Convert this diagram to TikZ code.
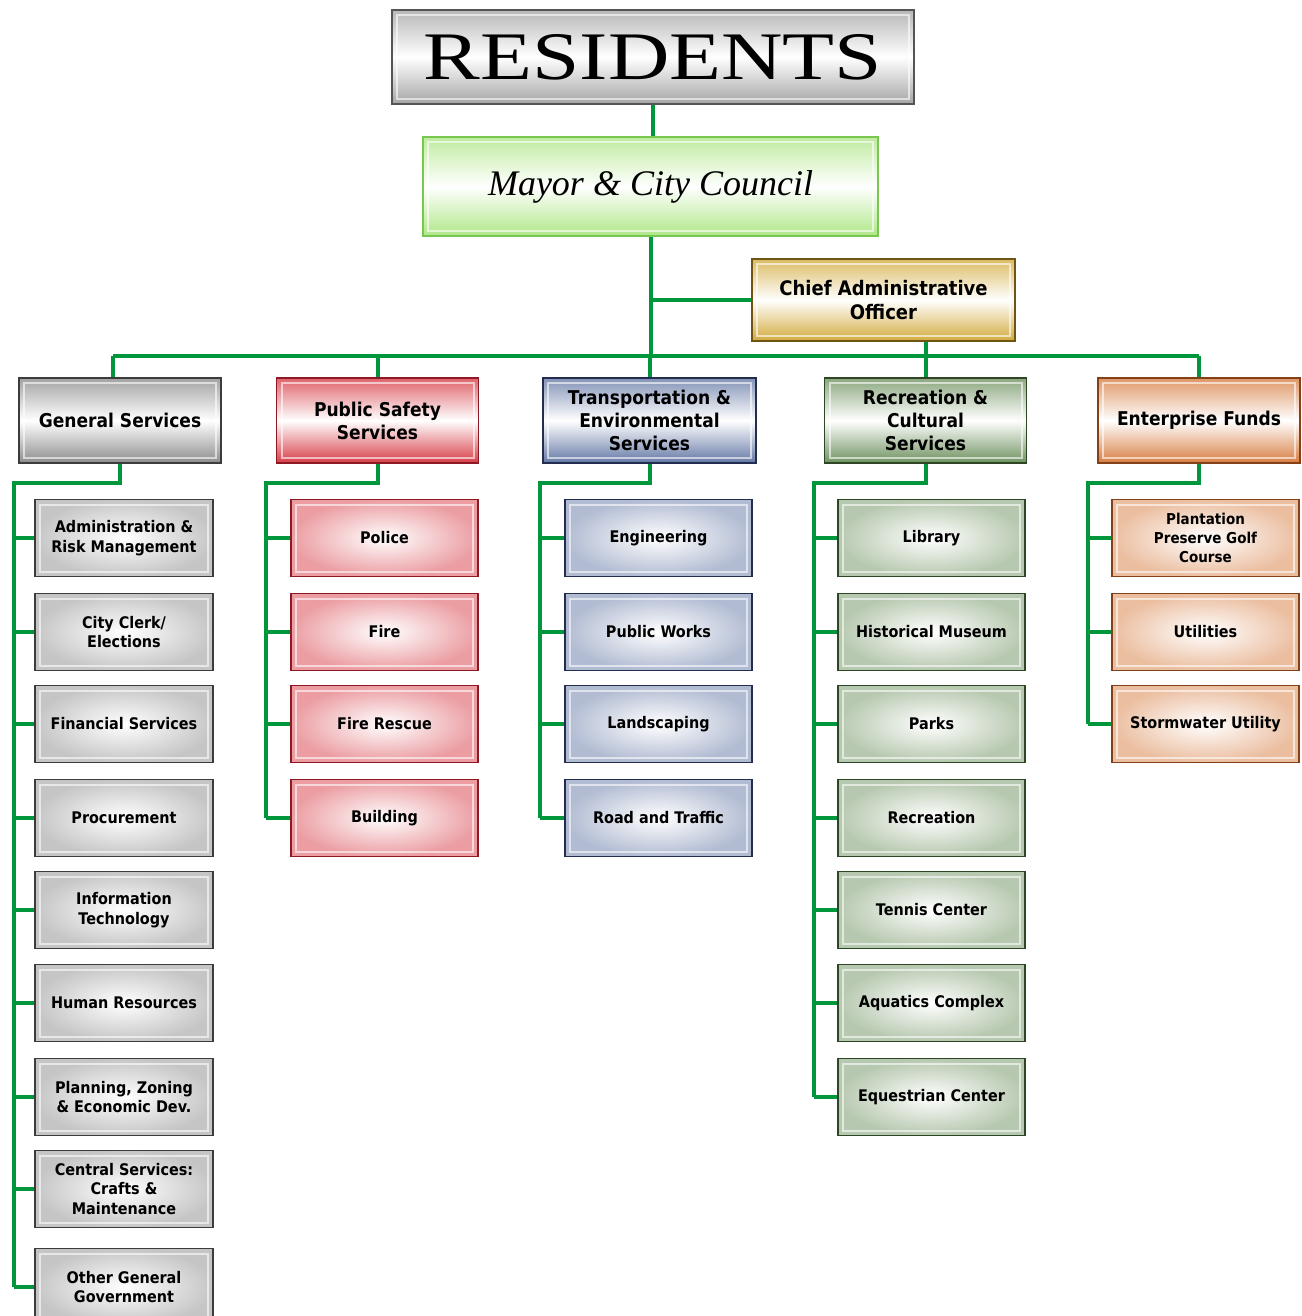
\documentclass[tikz,border=0pt]{standalone}
\usepackage{fontspec}
\newfontfamily\orgfont{DejaVu Sans}[FakeStretch=0.9]
\newfontfamily\resfont{Liberation Serif}[FakeStretch=1.25]
\newfontfamily\mayorfont{Liberation Serif}

\definecolor{linkgreen}{RGB}{0,150,60}
\definecolor{resEdge}{RGB}{85,85,85}
\definecolor{resFill}{RGB}{165,165,165}
\definecolor{mayorEdge}{RGB}{120,200,80}
\definecolor{mayorFill}{RGB}{175,230,135}
\definecolor{caoEdge}{RGB}{110,85,20}
\definecolor{caoFill}{RGB}{210,170,60}
\definecolor{gsEdge}{RGB}{60,60,60}
\definecolor{gsFill}{RGB}{140,140,140}
\definecolor{psEdge}{RGB}{140,25,35}
\definecolor{psFill}{RGB}{215,60,70}
\definecolor{teEdge}{RGB}{35,45,80}
\definecolor{teFill}{RGB}{100,120,165}
\definecolor{rcEdge}{RGB}{45,70,35}
\definecolor{rcFill}{RGB}{110,145,95}
\definecolor{efEdge}{RGB}{130,65,25}
\definecolor{efFill}{RGB}{215,125,65}

\tikzset{
  unit/.style={rectangle, draw=#1Edge, line width=1.5pt, top color=#1Fill!80,
    bottom color=#1Fill, middle color=white, align=center, inner sep=0pt,
    path picture={\draw[white, line width=2pt, opacity=0.6]
      ([shift={(5pt,-5pt)}]path picture bounding box.north west) rectangle
      ([shift={(-5pt,5pt)}]path picture bounding box.south east);}},
  head/.style={unit=#1, minimum width=202pt, minimum height=85pt,
    font=\orgfont\bfseries\fontsize{19}{23}\selectfont},
  kid/.style={unit=#1, inner color=white, outer color=#1Fill!50,
    minimum width=187pt, minimum height=77pt,
    font=\orgfont\bfseries\fontsize{16}{19.5}\selectfont},
  link/.style={draw=linkgreen, line width=4pt}
}

\begin{document}
\begin{tikzpicture}[x=1pt,y=-1pt]
\useasboundingbox (0,0) rectangle (1301,1316);
\clip (0,0) rectangle (1301,1316);

% top of the chart
\node[unit=res, minimum width=522pt, minimum height=94pt,
  font=\resfont\fontsize{68}{68}\selectfont] (res) at (653,57) {RESIDENTS};
\node[unit=mayor, minimum width=455pt, minimum height=99pt,
  font=\mayorfont\itshape\fontsize{36}{40}\selectfont] (mayor) at (650.5,186.5) {Mayor \& City Council};
\node[unit=cao, minimum width=263pt, minimum height=82pt,
  font=\orgfont\bfseries\fontsize{20}{24}\selectfont] (cao) at (883.5,300) {Chief Administrative\\Officer};

% departments
\node[head=gs] (gs) at (120,420.5) {General Services};
\node[head=ps] (ps) at (377.5,420.5) {Public Safety\\Services};
\node[head=te, minimum width=213pt] (te) at (649.5,420.5) {Transportation \&\\Environmental\\Services};
\node[head=rc] (rc) at (925.5,420.5) {Recreation \&\\Cultural\\Services};
\node[head=ef] (ef) at (1199,420.5) {Enterprise Funds};

% general services
\node[kid=gs, minimum width=178pt] (gs1) at (124,538) {Administration \&\\Risk Management};
\node[kid=gs, minimum width=178pt] (gs2) at (124,632) {City Clerk/\\Elections};
\node[kid=gs, minimum width=178pt] (gs3) at (124,724) {Financial Services};
\node[kid=gs, minimum width=178pt] (gs4) at (124,818) {Procurement};
\node[kid=gs, minimum width=178pt] (gs5) at (124,910) {Information\\Technology};
\node[kid=gs, minimum width=178pt] (gs6) at (124,1003) {Human Resources};
\node[kid=gs, minimum width=178pt] (gs7) at (124,1097) {Planning, Zoning\\\& Economic Dev.};
\node[kid=gs, minimum width=178pt] (gs8) at (124,1189) {Central Services:\\Crafts \&\\Maintenance};
\node[kid=gs, minimum width=178pt] (gs9) at (124,1287) {Other General\\Government};

% public safety
\node[kid=ps] (ps1) at (384.5,538) {Police};
\node[kid=ps] (ps2) at (384.5,632) {Fire};
\node[kid=ps] (ps3) at (384.5,724) {Fire Rescue};
\node[kid=ps] (ps4) at (384.5,818) {Building};

% transportation
\node[kid=te] (te1) at (658.5,538) {Engineering};
\node[kid=te] (te2) at (658.5,632) {Public Works};
\node[kid=te] (te3) at (658.5,724) {Landscaping};
\node[kid=te] (te4) at (658.5,818) {Road and Traffic};

% recreation
\node[kid=rc] (rc1) at (931.5,538) {Library};
\node[kid=rc] (rc2) at (931.5,632) {Historical Museum};
\node[kid=rc] (rc3) at (931.5,724) {Parks};
\node[kid=rc] (rc4) at (931.5,818) {Recreation};
\node[kid=rc] (rc5) at (931.5,910) {Tennis Center};
\node[kid=rc] (rc6) at (931.5,1003) {Aquatics Complex};
\node[kid=rc] (rc7) at (931.5,1097) {Equestrian Center};

% enterprise funds
\node[kid=ef, font=\orgfont\bfseries\fontsize{15}{19}\selectfont] (ef1) at (1205.5,538) {Plantation\\Preserve Golf\\Course};
\node[kid=ef] (ef2) at (1205.5,632) {Utilities};
\node[kid=ef] (ef3) at (1205.5,724) {Stormwater Utility};

% bus and corners
\coordinate (busL) at (113,356);
\coordinate (busR) at (1199,356);
\coordinate (gsT) at (14,483);
\coordinate (psT) at (266,483);
\coordinate (teT) at (540,483);
\coordinate (rcT) at (814,483);
\coordinate (efT) at (1088,483);

\begin{scope}[on background layer/.try]
\draw[link] (res.south) -- (res.south |- mayor.north);
\draw[link] (mayor.south) -- (mayor.south |- busL);
\draw[link] (mayor.south |- cao.west) -- (cao.west);
\draw[link] (rc.north |- cao.south) -- (rc.north);
\draw[link] (busL) -- (busR);
\draw[link] (busL) -- (busL |- gs.north);
\draw[link] (ps.north |- busL) -- (ps.north);
\draw[link] (te.north |- busL) -- (te.north);
\draw[link] (busR) -- (ef.north);

\draw[link] (gs.south) |- (gsT) -- (gsT |- gs9.west);
\draw[link] (ps.south) |- (psT) -- (psT |- ps4.west);
\draw[link] (te.south) |- (teT) -- (teT |- te4.west);
\draw[link] (rc.south) |- (rcT) -- (rcT |- rc7.west);
\draw[link] (ef.south) |- (efT) -- (efT |- ef3.west);

\draw[link] (gsT |- gs1.west) -- (gs1.west);
\draw[link] (gsT |- gs2.west) -- (gs2.west);
\draw[link] (gsT |- gs3.west) -- (gs3.west);
\draw[link] (gsT |- gs4.west) -- (gs4.west);
\draw[link] (gsT |- gs5.west) -- (gs5.west);
\draw[link] (gsT |- gs6.west) -- (gs6.west);
\draw[link] (gsT |- gs7.west) -- (gs7.west);
\draw[link] (gsT |- gs8.west) -- (gs8.west);
\draw[link] (gsT |- gs9.west) -- (gs9.west);

\draw[link] (psT |- ps1.west) -- (ps1.west);
\draw[link] (psT |- ps2.west) -- (ps2.west);
\draw[link] (psT |- ps3.west) -- (ps3.west);
\draw[link] (psT |- ps4.west) -- (ps4.west);

\draw[link] (teT |- te1.west) -- (te1.west);
\draw[link] (teT |- te2.west) -- (te2.west);
\draw[link] (teT |- te3.west) -- (te3.west);
\draw[link] (teT |- te4.west) -- (te4.west);

\draw[link] (rcT |- rc1.west) -- (rc1.west);
\draw[link] (rcT |- rc2.west) -- (rc2.west);
\draw[link] (rcT |- rc3.west) -- (rc3.west);
\draw[link] (rcT |- rc4.west) -- (rc4.west);
\draw[link] (rcT |- rc5.west) -- (rc5.west);
\draw[link] (rcT |- rc6.west) -- (rc6.west);
\draw[link] (rcT |- rc7.west) -- (rc7.west);

\draw[link] (efT |- ef1.west) -- (ef1.west);
\draw[link] (efT |- ef2.west) -- (ef2.west);
\draw[link] (efT |- ef3.west) -- (ef3.west);
\end{scope}
\end{tikzpicture}
\end{document}
